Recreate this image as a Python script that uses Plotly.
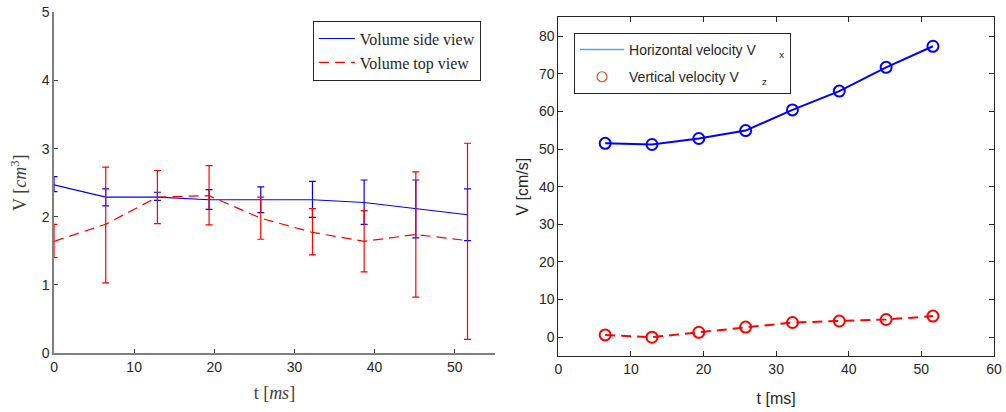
import plotly.graph_objects as go

# ---- data ----
t_left = [0, 6.45, 12.9, 19.35, 25.8, 32.25, 38.7, 45.15, 51.6]
side_mean = [2.47, 2.29, 2.29, 2.25, 2.25, 2.25, 2.21, 2.12, 2.03]
side_hi = [2.59, 2.41, 2.36, 2.40, 2.44, 2.52, 2.54, 2.54, 2.41]
side_lo = [2.37, 2.16, 2.24, 2.11, 2.06, 1.99, 1.89, 1.69, 1.65]
top_mean = [1.64, 1.89, 2.29, 2.31, 1.98, 1.77, 1.64, 1.74, 1.65]
top_hi = [1.89, 2.73, 2.68, 2.75, 2.29, 2.12, 2.09, 2.66, 3.08]
top_lo = [1.40, 1.03, 1.90, 1.88, 1.67, 1.44, 1.19, 0.82, 0.20]

t_right = [6.45, 12.9, 19.35, 25.8, 32.25, 38.7, 45.15, 51.6]
vx = [51.5, 51.2, 52.8, 54.9, 60.4, 65.4, 71.7, 77.3]
vz = [0.6, 0.0, 1.3, 2.7, 3.9, 4.3, 4.7, 5.6]

side_plus = [h - m for h, m in zip(side_hi, side_mean)]
side_minus = [m - l for m, l in zip(side_mean, side_lo)]
top_plus = [h - m for h, m in zip(top_hi, top_mean)]
top_minus = [m - l for m, l in zip(top_mean, top_lo)]

SERIF = "Liberation Serif"
SANS = "Liberation Sans"
NB = "\u00a0"

fig = go.Figure()

# ---- left panel ----
fig.add_trace(go.Scatter(
    x=t_left, y=side_mean, mode="lines", name="Volume side view",
    line=dict(color="#0000ff", width=1.2),
    error_y=dict(type="data", symmetric=False, array=side_plus, arrayminus=side_minus,
                 color="#0000ff", thickness=1.2, width=3.5),
    xaxis="x", yaxis="y", legend="legend"))
fig.add_trace(go.Scatter(
    x=t_left, y=top_mean, mode="lines", name="Volume top view",
    line=dict(color="#ff0000", width=1.2, dash="10px,6px"),
    error_y=dict(type="data", symmetric=False, array=top_plus, arrayminus=top_minus,
                 color="#ff0000", thickness=1.2, width=3.5),
    xaxis="x", yaxis="y", legend="legend"))

# ---- right panel ----
fig.add_trace(go.Scatter(
    x=t_right, y=vx, mode="lines+markers", showlegend=False,
    line=dict(color="#0000ff", width=2),
    marker=dict(symbol="circle-open", size=11, color="#0000ff", line=dict(width=2)),
    xaxis="x2", yaxis="y2"))
fig.add_trace(go.Scatter(
    x=t_right, y=vz, mode="lines+markers", showlegend=False,
    line=dict(color="#ff0000", width=2, dash="10px,6px"),
    marker=dict(symbol="circle-open", size=11, color="#ff0000", line=dict(width=2)),
    xaxis="x2", yaxis="y2"))
# legend entries (MATLAB-style legend appearance)
fig.add_trace(go.Scatter(
    x=[None], y=[None], mode="lines",
    name="Horizontal velocity V" + NB * 6 + "<sub>x</sub>",
    line=dict(color="#4da6e0", width=1.5), legendgroup="a",
    xaxis="x2", yaxis="y2", legend="legend2"))
fig.add_trace(go.Scatter(
    x=[None], y=[None], mode="markers",
    name="Vertical velocity V" + NB * 6 + "<sub>z</sub>",
    marker=dict(symbol="circle-open", size=10, color="#e0531c", line=dict(width=1.2)),
    legendgroup="b",
    xaxis="x2", yaxis="y2", legend="legend2"))

dark = "#262626"

fig.update_layout(
    width=1006, height=412,
    margin=dict(l=0, r=0, t=0, b=0, autoexpand=False),
    paper_bgcolor="white", plot_bgcolor="white",
    font=dict(family=SANS, size=13, color=dark),
    xaxis=dict(domain=[0.0537, 0.4918], range=[0, 55], tick0=0, dtick=10,
               showline=True, linecolor="#808080", linewidth=1.5,
               ticks="inside", ticklen=4, tickcolor="#404040",
               showgrid=False, zeroline=False, anchor="y", automargin=False,
               tickfont=dict(family=SANS, size=14, color=dark),
               title=dict(text="t [<i>ms</i>]", font=dict(family=SERIF, size=18, color="#404040"),
                          standoff=13)),
    yaxis=dict(domain=[0.1432, 0.9697], range=[0, 5], tick0=0, dtick=1,
               showline=True, linecolor="#808080", linewidth=1.5,
               ticks="inside", ticklen=4, tickcolor="#404040",
               showgrid=False, zeroline=False, anchor="x", automargin=False,
               tickfont=dict(family=SANS, size=14, color=dark),
               title=dict(text="V [<i>cm</i><sup>3</sup>]", font=dict(family=SERIF, size=18, color="#404040"),
                          standoff=10)),
    xaxis2=dict(domain=[0.555, 0.988], range=[0, 60], tick0=0, dtick=10,
                showline=True, mirror="ticks", linecolor=dark, linewidth=1,
                ticks="inside", ticklen=5, tickcolor=dark,
                showgrid=False, zeroline=False, anchor="y2", automargin=False,
                tickfont=dict(family=SANS, size=14, color=dark),
                title=dict(text="t [ms]", font=dict(family=SANS, size=16, color=dark), standoff=16)),
    yaxis2=dict(domain=[0.1359, 0.958], range=[-5, 85], tick0=0, dtick=10,
                showline=True, mirror="ticks", linecolor=dark, linewidth=1,
                ticks="inside", ticklen=5, tickcolor=dark,
                showgrid=False, zeroline=False, anchor="x2", automargin=False,
                tickfont=dict(family=SANS, size=14, color=dark),
                title=dict(text="V [cm/s]", font=dict(family=SANS, size=16, color=dark), standoff=6)),
    legend=dict(x=0.311, y=0.95, xanchor="left", yanchor="top",
                bgcolor="white", bordercolor=dark, borderwidth=1,
                font=dict(family=SERIF, size=16, color=dark),
                tracegroupgap=0, itemwidth=36),
    legend2=dict(x=0.5706, y=0.92, xanchor="left", yanchor="top",
                 bgcolor="white", bordercolor=dark, borderwidth=1,
                 font=dict(family=SANS, size=14, color=dark),
                 tracegroupgap=6, itemwidth=44),
)

fig.write_html("out.html")
